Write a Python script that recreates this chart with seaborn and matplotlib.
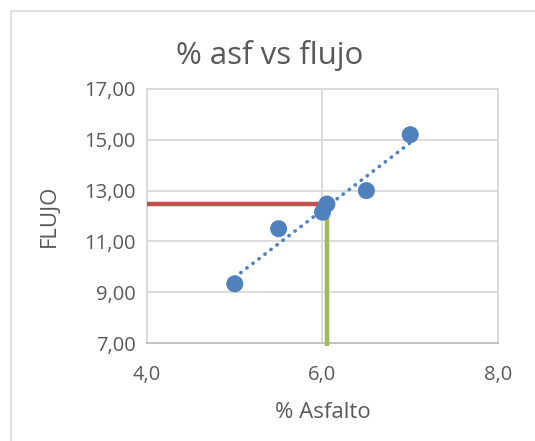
import matplotlib
matplotlib.use("Agg")
import matplotlib.pyplot as plt
from matplotlib.patches import Rectangle
import seaborn as sns
import numpy as np
import pandas as pd

# Ensayo Marshall: porcentaje de asfalto vs flujo
asfalto = [5.0, 5.5, 6.0, 6.5, 7.0]
flujo = [9.33, 11.50, 12.15, 13.00, 15.20]

# Punto de diseño (contenido óptimo de asfalto)
asf_optimo = 6.05
flujo_optimo = 12.47

x_ticks = [4.0, 6.0, 8.0]
y_ticks = [7.0, 9.0, 11.0, 13.0, 15.0, 17.0]

BLUE = "#4F81BD"
RED = "#C0504D"
GREEN = "#9BBB59"
TEXT = "#595959"
GRID = "#D9D9D9"

sns.set_style("white")
plt.rcParams["font.family"] = ["Open Sans", "DejaVu Sans"]

fig = plt.figure(figsize=(5.35, 4.41), dpi=100)
ax = fig.add_axes([0.2748, 0.2222, 0.656, 0.576])

df = pd.DataFrame({"asfalto": asfalto, "flujo": flujo})

# Líneas de lectura del punto de diseño
ax.plot([x_ticks[0], asf_optimo], [flujo_optimo, flujo_optimo], color=RED, lw=3.2,
        solid_capstyle="butt", zorder=3)
ax.plot([asf_optimo, asf_optimo], [y_ticks[0] - 0.1, flujo_optimo], color=GREEN, lw=3.2,
        solid_capstyle="butt", zorder=3, clip_on=False)

# Línea de tendencia lineal
sns.regplot(data=df, x="asfalto", y="flujo", ax=ax, scatter=False, ci=None, truncate=True,
            line_kws=dict(color=BLUE, lw=2.6, linestyle=(0, (0.1, 2.0)),
                          dash_capstyle="round", zorder=4))

# Datos
sns.scatterplot(data=df, x="asfalto", y="flujo", ax=ax, color=BLUE, s=150,
                edgecolor="none", zorder=5)
ax.scatter([asf_optimo], [flujo_optimo], color=BLUE, s=150, edgecolor="none", zorder=5)

ax.set_xlim(x_ticks[0], x_ticks[-1])
ax.set_ylim(y_ticks[0], y_ticks[-1])
ax.set_xticks(x_ticks)
ax.set_yticks(y_ticks)
ax.set_xticklabels([f"{v:.1f}".replace(".", ",") for v in x_ticks])
ax.set_yticklabels([f"{v:.2f}".replace(".", ",") for v in y_ticks])
ax.tick_params(axis="both", length=0, labelsize=14.5, labelcolor=TEXT)
ax.tick_params(axis="x", pad=16)
ax.tick_params(axis="y", pad=8)

ax.grid(True, color=GRID, lw=1.3)
ax.set_axisbelow(True)
for s in ax.spines.values():
    s.set_color(GRID)
    s.set_linewidth(1.3)
ax.spines["bottom"].set_color("#BFBFBF")

ax.set_xlabel("% Asfalto", fontsize=16, color=TEXT, labelpad=12)
ax.set_ylabel("FLUJO", fontsize=16, color=TEXT, labelpad=18)
fig.text(0.505, 0.874, "% asf vs flujo", ha="center", va="center", fontsize=22.5, color=TEXT)

# Borde del área del gráfico
fig.patches.append(Rectangle((11 / 535, -0.05), 1.0, 1 - 11 / 441 + 0.05,
                             transform=fig.transFigure, fill=False,
                             edgecolor="#D9D9D9", lw=1.2))

fig.savefig("out.png", dpi=100, facecolor="white")
